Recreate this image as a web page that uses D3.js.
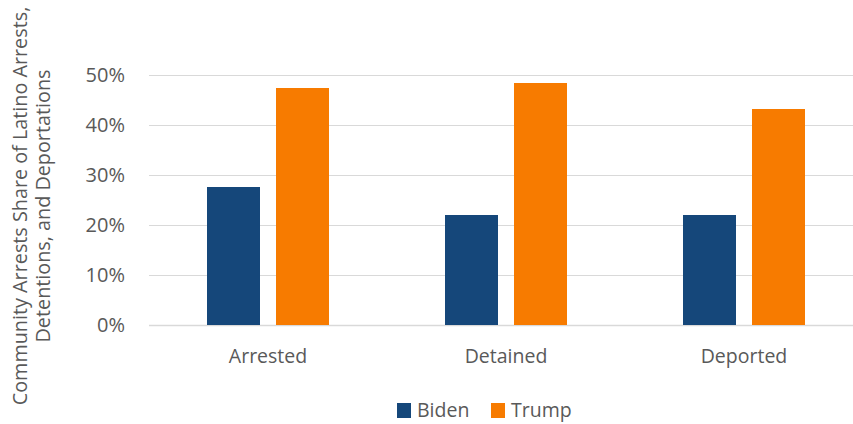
<!DOCTYPE html>
<html>
<head>
<meta charset="utf-8">
<script src="https://cdn.jsdelivr.net/npm/d3@7"></script>
<style>
  body { margin: 0; background: #fff; }
  svg { display: block; font-family: "Open Sans", Lato, sans-serif; }
</style>
</head>
<body>
<script>
let width = 853;
let height = 424;

let categories = ["Arrested", "Detained", "Deported"];
let seriesNames = ["Biden", "Trump"];
let biden = [27.6, 22.0, 22.0];
let trump = [47.4, 48.4, 43.2];
let yTicks = [0, 10, 20, 30, 40, 50];
let colors = { "Biden": "#15477a", "Trump": "#f77b00" };

let values = { "Biden": biden, "Trump": trump };

let svg = d3.select("body").append("svg")
    .attr("width", width)
    .attr("height", height);

let x0 = d3.scaleBand()
    .domain(categories)
    .range([149, 863]);

let x1 = d3.scaleBand()
    .domain(seriesNames)
    .range([0, 122])
    .paddingInner(0.232);

let y = d3.scaleLinear()
    .domain([0, 50])
    .range([325, 75]);

// gridlines
svg.append("g")
    .selectAll("line")
    .data(yTicks)
    .enter()
    .append("line")
    .attr("x1", 149)
    .attr("x2", 863)
    .attr("y1", d => y(d) + 0.5)
    .attr("y2", d => y(d) + 0.5)
    .attr("stroke", "#d9d9d9")
    .attr("stroke-width", d => d === 0 ? 1.5 : 1);

// y tick labels
svg.append("g")
    .selectAll("text")
    .data(yTicks)
    .enter()
    .append("text")
    .attr("x", 125)
    .attr("y", d => y(d))
    .attr("dy", "0.35em")
    .attr("text-anchor", "end")
    .attr("fill", "#595959")
    .style("font-size", "20px")
    .text(d => d + "%");

// bars
let groups = svg.append("g")
    .selectAll("g")
    .data(categories)
    .enter()
    .append("g")
    .attr("transform", d => "translate(" + (x0(d) + (x0.bandwidth() - 122) / 2) + ",0)");

groups.selectAll("rect")
    .data((d, i) => seriesNames.map(s => ({ s: s, v: values[s][i] })))
    .enter()
    .append("rect")
    .attr("x", d => x1(d.s))
    .attr("width", x1.bandwidth())
    .attr("y", d => y(d.v))
    .attr("height", d => y(0) - y(d.v))
    .attr("fill", d => colors[d.s]);

// x labels
svg.append("g")
    .selectAll("text")
    .data(categories)
    .enter()
    .append("text")
    .attr("x", d => x0(d) + x0.bandwidth() / 2)
    .attr("y", 356)
    .attr("dy", "0.35em")
    .attr("text-anchor", "middle")
    .attr("fill", "#595959")
    .style("font-size", "19.5px")
    .text(d => d);

// y axis title
let title = svg.append("text")
    .attr("transform", "translate(0,206) rotate(-90)")
    .attr("text-anchor", "middle")
    .attr("fill", "#595959")
    .style("font-size", "19.8px");
title.append("tspan").attr("x", 0).attr("y", 27).text("Community Arrests Share of Latino Arrests,");
title.append("tspan").attr("x", 0).attr("y", 50).text("Detentions, and Deportations");

// legend
let legendX = [397, 491];
let legend = svg.append("g")
    .selectAll("g")
    .data(seriesNames)
    .enter()
    .append("g")
    .attr("transform", (d, i) => "translate(" + legendX[i] + ",410.5)");

legend.append("rect")
    .attr("x", 0)
    .attr("y", -7.5)
    .attr("width", 14)
    .attr("height", 15)
    .attr("fill", d => colors[d]);

legend.append("text")
    .attr("x", 20)
    .attr("y", 0)
    .attr("dy", "0.35em")
    .attr("fill", "#595959")
    .style("font-size", "19.5px")
    .text(d => d);
</script>
</body>
</html>
